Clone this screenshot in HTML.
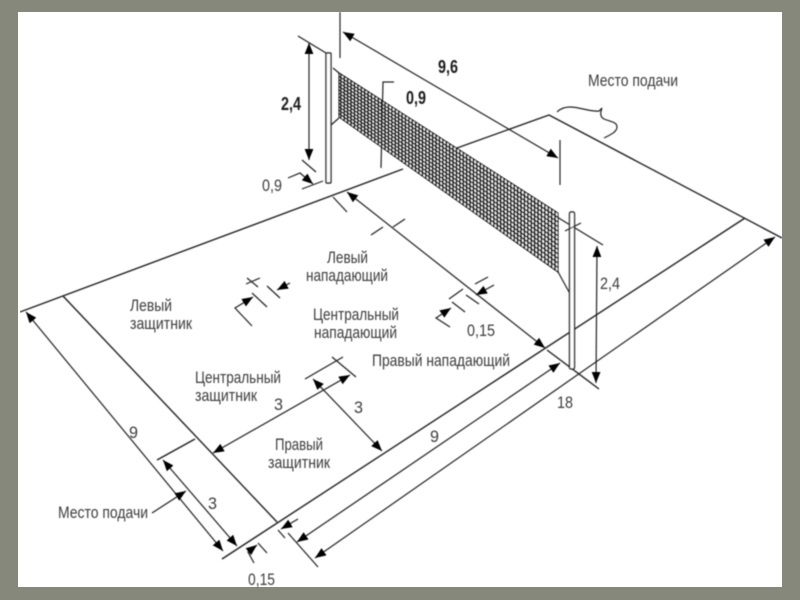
<!DOCTYPE html>
<html lang="ru">
<head>
<meta charset="utf-8">
<title>Волейбольная площадка</title>
<style>
html,body{margin:0;padding:0;width:800px;height:600px;overflow:hidden;background:#85887b}
svg{display:block;position:absolute;left:0;top:0}
text{font-family:"Liberation Sans","Noto Sans CJK JP",sans-serif;fill:#3c3c3c;font-size:16.5px}
.b{font-weight:bold;fill:#1c1c1c;font-size:18px}
</style>
</head>
<body>
<svg width="800" height="600" viewBox="0 0 800 600" xmlns="http://www.w3.org/2000/svg">
<defs>
<filter id="soft" x="0" y="0" width="100%" height="100%"><feGaussianBlur stdDeviation="0.4"/></filter>
<pattern id="cols" width="3.4" height="10" patternUnits="userSpaceOnUse"><rect width="3.4" height="10" fill="#fff"/><rect width="1.6" height="10" fill="#000"/></pattern>
<marker id="a" viewBox="0 0 10 8" refX="10" refY="4" markerWidth="11" markerHeight="9" markerUnits="userSpaceOnUse" orient="auto-start-reverse"><path d="M0 0L10 4L0 8Z" fill="#000"/></marker>
</defs>
<rect x="18" y="12" width="764" height="575" fill="#fff"/>
<g filter="url(#soft)">
<g fill="none" stroke="#222" stroke-width="1.4">
<!-- court -->
<path d="M20 312L403 169M457 148L549 115L782 238"/>
<path d="M63 296L277 522"/>
<path d="M222 559L745 218"/>
<path d="M157 460L195 439"/>
<path d="M547 350L599 389"/>
<!-- net cords and posts -->
<path d="M333 68L339 73M331 125L339 118M557 270L569 292M557 217L603 245" stroke-width="1.2"/>
<rect x="326" y="53" width="5" height="130" fill="#fff" rx="1"/>
<rect x="569.5" y="212" width="5" height="157" fill="#fff" rx="1.5"/>
</g>
<!-- net -->
<polygon points="339,73 558,213 558,272 339,117" fill="url(#cols)" stroke="#000" stroke-width="1.1"/>
<path fill="none" stroke="#000" stroke-width="1.35" d="M339 76.4L558 217.5M339 79.8L558 222.1M339 83.2L558 226.6M339 86.5L558 231.2M339 89.9L558 235.7M339 93.3L558 240.2M339 96.7L558 244.8M339 100.1L558 249.3M339 103.5L558 253.8M339 106.8L558 258.4M339 110.2L558 262.9M339 113.6L558 267.5"/>
<g fill="none" stroke="#222" stroke-width="1.2">
<!-- top dimensions -->
<path d="M340 12L340 58M560 140L560 185M298 36L326 53M302 160L316 172M302 189L323 181"/>
<path d="M394 82L383 82L381 168"/>
<path d="M343 32L558 158" marker-start="url(#a)" marker-end="url(#a)"/>
<path d="M309 43L309 160" marker-start="url(#a)" marker-end="url(#a)"/>
<path d="M288 178L300 173L313 184" marker-end="url(#a)"/>
<path d="M597 246L596 383" marker-start="url(#a)" marker-end="url(#a)"/>
<path d="M565 231L581 223"/>
<!-- centre dimension -->
<path d="M347 192L545 348" marker-start="url(#a)" marker-end="url(#a)"/>
<path d="M333 197L347 212M371 235L383 227M393 227L405 219"/>
<path d="M449 299L463 289M475 284L488 277"/>
<path d="M466 295L479 304M452 302L465 312"/>
<path d="M494 285L476 295" marker-end="url(#a)"/>
<path d="M450 327L436 318L451 308" marker-end="url(#a)"/>
<!-- left small dimension -->
<path d="M252 326L235 308L253 297" marker-end="url(#a)"/>
<path d="M252 293L267 307M267 286L280 298"/>
<path d="M246 284L260 278M247 278L258 287"/>
<path d="M290 283L277 290" marker-end="url(#a)"/>
<!-- attack line dimension -->
<path d="M213 453L350 375" marker-start="url(#a)" marker-end="url(#a)"/>
<path d="M305 379L343 357M332 357L356 377"/>
<path d="M313 379L382 451" marker-start="url(#a)" marker-end="url(#a)"/>
<!-- left dimensions -->
<path d="M26 312L223 551" marker-start="url(#a)" marker-end="url(#a)"/>
<path d="M163 460L237 546" marker-start="url(#a)" marker-end="url(#a)"/>
<path d="M152 513L186 491" marker-end="url(#a)"/>
<path d="M254 563L248 552L257 545" marker-end="url(#a)"/>
<path d="M258 543L267 553"/>
<!-- bottom right dimensions -->
<path d="M288 533L318 567M278 530L285 538"/>
<path d="M298 519L281 529" marker-end="url(#a)"/>
<path d="M297 542L560 363" marker-start="url(#a)" marker-end="url(#a)"/>
<path d="M315 558L775 237" marker-start="url(#a)" marker-end="url(#a)"/>
<!-- brace -->
<path d="M557 112C561 108 565 107 570 107C580 107 590 112 599 111L602 108C600 113 600 117 604 119C611 122 617 122 617 127C617 132 610 135 604 138"/>
</g>
<!-- labels -->
<text x="588" y="86" textLength="90" lengthAdjust="spacingAndGlyphs">Место подачи</text>
<text class="b" x="438" y="73" textLength="20" lengthAdjust="spacingAndGlyphs">9,6</text>
<text class="b" x="406" y="104" textLength="20" lengthAdjust="spacingAndGlyphs">0,9</text>
<text class="b" x="281" y="110" textLength="20" lengthAdjust="spacingAndGlyphs">2,4</text>
<text x="262" y="191" textLength="20" lengthAdjust="spacingAndGlyphs">0,9</text>
<text x="600" y="289" textLength="20" lengthAdjust="spacingAndGlyphs">2,4</text>
<text x="327" y="263" textLength="41" lengthAdjust="spacingAndGlyphs">Левый</text>
<text x="306" y="281" textLength="82" lengthAdjust="spacingAndGlyphs">нападающий</text>
<text x="130" y="311" textLength="42" lengthAdjust="spacingAndGlyphs">Левый</text>
<text x="130" y="329" textLength="62" lengthAdjust="spacingAndGlyphs">защитник</text>
<text x="313" y="320" textLength="86" lengthAdjust="spacingAndGlyphs">Центральный</text>
<text x="314" y="338" textLength="83" lengthAdjust="spacingAndGlyphs">нападающий</text>
<text x="467" y="336" textLength="28" lengthAdjust="spacingAndGlyphs">0,15</text>
<text x="372" y="366" textLength="138" lengthAdjust="spacingAndGlyphs">Правый нападающий</text>
<text x="195" y="383" textLength="86" lengthAdjust="spacingAndGlyphs">Центральный</text>
<text x="195" y="401" textLength="62" lengthAdjust="spacingAndGlyphs">защитник</text>
<text x="274" y="410" textLength="9" lengthAdjust="spacingAndGlyphs">3</text>
<text x="354" y="413" textLength="9" lengthAdjust="spacingAndGlyphs">3</text>
<text x="557" y="408" textLength="16" lengthAdjust="spacingAndGlyphs">18</text>
<text x="430" y="442" textLength="9" lengthAdjust="spacingAndGlyphs">9</text>
<text x="129" y="438" textLength="9" lengthAdjust="spacingAndGlyphs">9</text>
<text x="275" y="450" textLength="48" lengthAdjust="spacingAndGlyphs">Правый</text>
<text x="268" y="468" textLength="62" lengthAdjust="spacingAndGlyphs">защитник</text>
<text x="208" y="509" textLength="9" lengthAdjust="spacingAndGlyphs">3</text>
<text x="58" y="518" textLength="90" lengthAdjust="spacingAndGlyphs">Место подачи</text>
<text x="248" y="585" textLength="27" lengthAdjust="spacingAndGlyphs">0,15</text>
</g>
</svg>
</body>
</html>
